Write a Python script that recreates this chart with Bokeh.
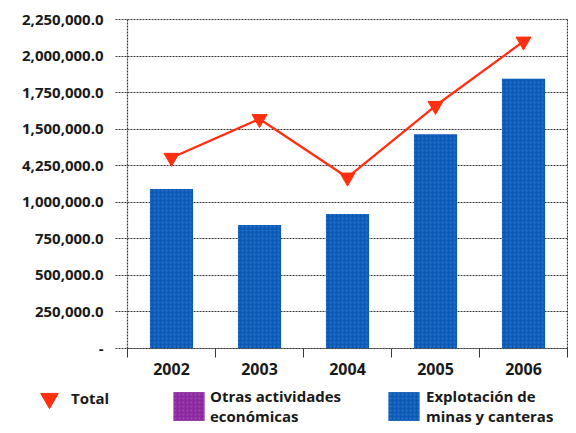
from bokeh.plotting import figure
from bokeh.models import Range1d, FixedTicker, Legend, LegendItem
from bokeh.embed import file_html
from bokeh.resources import INLINE

# ---- data ----
years = ["2002", "2003", "2004", "2005", "2006"]
explotacion = [1090000, 845000, 920000, 1465000, 1845000]
otras = [0, 0, 0, 0, 0]  # no visible bars in the reference
total = [1305000, 1570000, 1170000, 1660000, 2100000]
y_ticks = [0, 250000, 500000, 750000, 1000000, 1250000, 1500000, 1750000, 2000000, 2250000]
y_tick_labels = ["-", "250,000.0", "500,000.0", "750,000.0", "1,000,000.0",
                 "4,250,000.0", "1,500,000.0", "1,750,000.0", "2,000,000.0", "2,250,000.0"]
legend_labels = ["Total", "Otras actividades\necon\u00f3micas", "Explotaci\u00f3n de\nminas y canteras"]

FONT = "Open Sans"
TXT = "#1a1a1a"
GRID = "#3a3a3a"
BLUE = "#0b5ab6"
RED = "#ff2f0f"
PURPLE = "#8a2a9e"

# ---- layout geometry (pixels) ----
W, H = 568, 425
AX_LEFT, AX_TOP = 127, 19        # plot box position inside the figure
BOX_W, BOX_H = 440, 329          # plot box size
n = len(years)
y_max = y_ticks[-1]
ux = BOX_W / n
uy = BOX_H / y_max

xc = [i + 0.5 for i in range(n)]

p = figure(width=W, height=H, output_backend="svg", toolbar_location=None,
           x_range=Range1d(-AX_LEFT / ux, (W - AX_LEFT) / ux),
           y_range=Range1d(-(H - AX_TOP - BOX_H) / uy, y_max + AX_TOP / uy),
           min_border_left=0, min_border_right=0, min_border_top=0, min_border_bottom=0)
p.outline_line_color = None
p.background_fill_color = "white"
p.border_fill_color = "white"

# bars
r_expl = p.vbar(x=xc, top=explotacion, width=0.49, fill_color=BLUE, line_color=None,
                hatch_pattern="dot", hatch_color="#4d8be0", hatch_alpha=0.6, hatch_scale=4)
r_otras = p.vbar(x=xc, bottom=explotacion, top=[e + o for e, o in zip(explotacion, otras)],
                 width=0.49, fill_color=PURPLE, line_color=None,
                 hatch_pattern="dot", hatch_color="#b45ccc", hatch_alpha=0.6, hatch_scale=4)

# total line
p.line(x=xc, y=total, line_color=RED, line_width=2.3)
r_tri = p.scatter(x=xc, y=total, marker="inverted_triangle", size=15,
                  fill_color=RED, line_color=RED)

# axes (fixed inside the full-size frame)
yax = p.yaxis[0]
yax.fixed_location = 0
yax.bounds = (0, y_max)
yax.ticker = FixedTicker(ticks=y_ticks)
yax.major_label_overrides = {t: l for t, l in zip(y_ticks, y_tick_labels)}
yax.major_tick_out = 12
yax.major_tick_in = 0
yax.minor_tick_line_color = None
yax.major_tick_line_color = GRID
yax.major_tick_line_dash = "2 1"
yax.axis_line_color = GRID
yax.axis_line_dash = "2 1"
yax.axis_line_width = 1.2
yax.major_label_standoff = 12
yax.major_label_text_font = FONT
yax.major_label_text_font_size = "15px"
yax.major_label_text_font_style = "bold"
yax.major_label_text_color = TXT

xax = p.xaxis[0]
xax.fixed_location = 0
xax.bounds = (0, n)
xax.ticker = FixedTicker(ticks=xc, minor_ticks=list(range(n + 1)))
xax.major_label_overrides = {t: l for t, l in zip(xc, years)}
xax.major_tick_out = 0
xax.major_tick_in = 0
xax.major_tick_line_color = None
xax.minor_tick_out = 9
xax.minor_tick_in = 0
xax.minor_tick_line_color = GRID
xax.axis_line_color = GRID
xax.axis_line_dash = "2 1"
xax.axis_line_width = 1.2
xax.major_label_standoff = 5
xax.major_label_text_font = FONT
xax.major_label_text_font_size = "16px"
xax.major_label_text_font_style = "bold"
xax.major_label_text_color = TXT

# grid: horizontal dotted lines inside the plot box, plus right border line
yg = p.ygrid[0]
yg.ticker = FixedTicker(ticks=y_ticks)
yg.cross_bounds = (0, n)
yg.grid_line_color = GRID
yg.grid_line_dash = "2 1"
yg.grid_line_width = 1.2

xg = p.xgrid[0]
xg.ticker = FixedTicker(ticks=[n])
xg.cross_bounds = (0, y_max)
xg.grid_line_color = GRID
xg.grid_line_dash = "2 1"
xg.grid_line_width = 1.2

# legends
common = dict(orientation="horizontal", padding=0, margin=0, border_line_color=None,
              background_fill_alpha=0, label_text_font=FONT, label_text_font_size="15px",
              label_text_color=TXT, label_text_font_style="bold", spacing=0)

leg1 = Legend(items=[LegendItem(label=legend_labels[0], renderers=[r_tri])], location=(27, 1),
              glyph_width=44, glyph_height=52, label_standoff=0, **common)
leg2 = Legend(items=[LegendItem(label=legend_labels[1], renderers=[r_otras])],
              location=(169, -1), glyph_width=39, glyph_height=36, label_standoff=2, **common)
leg3 = Legend(items=[LegendItem(label=legend_labels[2], renderers=[r_expl])],
              location=(384, -1), glyph_width=39, glyph_height=36, label_standoff=3, **common)
for lg in (leg1, leg2, leg3):
    p.add_layout(lg, "center")

open("out.html", "w").write(file_html(p, INLINE))
